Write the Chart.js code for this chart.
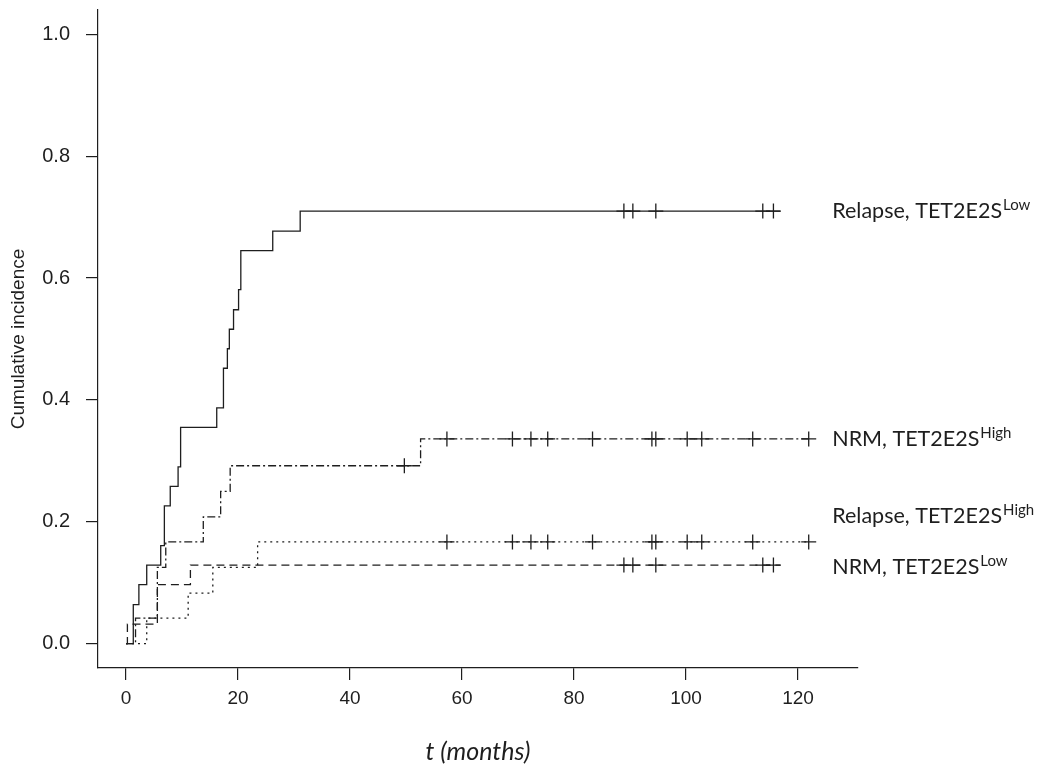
<!DOCTYPE html>
<html>
<head>
<meta charset="utf-8">
<script src="https://cdn.jsdelivr.net/npm/chart.js@4.4.1/dist/chart.umd.min.js"></script>
<style>
  html, body { margin: 0; padding: 0; background: #fff; }
  #wrap { width: 1057px; height: 772px; }
</style>
</head>
<body>
<div id="wrap"><canvas id="ciChart" width="1057" height="772"></canvas></div>
<script>
// jump times (months) and cumulative incidence after each jump, last entry = end of follow-up
const relLowT = [0, 1.3, 2.3, 3.7, 6.2, 6.85, 7.9, 9.3, 9.75, 16.2, 17.4, 18.1, 18.45, 19.2, 20.1, 20.5, 26.2, 31.1, 116.8];
const relLowY = [0, 0.064, 0.097, 0.129, 0.161, 0.226, 0.258, 0.290, 0.355, 0.387, 0.452, 0.484, 0.516, 0.548, 0.581, 0.645, 0.677, 0.710, 0.710];

const nrmLowT = [0, 0.25, 5.6, 11.5, 116.8];
const nrmLowY = [0, 0.032, 0.097, 0.129, 0.129];

const relHighT = [0, 3.7, 11.1, 15.5, 23.5, 121.9];
const relHighY = [0, 0.042, 0.083, 0.125, 0.167, 0.167];

const nrmHighT = [0, 1.7, 5.6, 7.1, 13.8, 16.9, 18.6, 52.6, 121.9];
const nrmHighY = [0, 0.042, 0.125, 0.167, 0.208, 0.250, 0.292, 0.336, 0.336];

// censoring times
const censLow = [88.9, 90.5, 94.6, 113.7, 115.6];
const censRelHigh = [57.3, 69.0, 72.3, 75.3, 83.3, 93.9, 94.6, 100.2, 102.8, 111.9, 121.9];
const censNrmHigh = [49.7, 57.3, 69.0, 72.3, 75.3, 83.3, 93.9, 94.6, 100.2, 102.8, 111.9, 121.9];

const xTicks = [0, 20, 40, 60, 80, 100, 120];
const yTicks = [0, 0.2, 0.4, 0.6, 0.8, 1.0];

// curve names at right side
const curveNames = ['Relapse, TET2E2S', 'NRM, TET2E2S', 'Relapse, TET2E2S', 'NRM, TET2E2S'];
const curveSups = ['Low', 'High', 'High', 'Low'];
const nameY = [0.71, 0.336, 0.21, 0.125];
const nameX = 126.1;

const ink = '#1e1e1e';

function toPoints(T, Y) {
    return T.map((t, i) => ({ x: t, y: Y[i] }));
}

function levelAt(T, Y, t) {
    let v = 0;
    for (let i = 0; i < T.length; i++) {
        if (T[i] <= t) v = Y[i];
    }
    return v;
}

function curve(T, Y, dash) {
    return {
        data: toPoints(T, Y),
        showLine: true,
        stepped: true,
        borderColor: ink,
        borderWidth: 1.3,
        borderDash: dash,
        pointRadius: 0,
        fill: false,
    };
}

function marks(times, T, Y) {
    return {
        data: times.map(t => ({ x: t, y: levelAt(T, Y, t) })),
        showLine: false,
        pointStyle: 'cross',
        pointRadius: 7.5,
        pointBorderWidth: 1.3,
        borderColor: ink,
        backgroundColor: ink,
    };
}

const curveLabels = {
    id: 'curveLabels',
    afterDraw(chart) {
        const ctx = chart.ctx;
        const xs = chart.scales.x, ys = chart.scales.y;
        ctx.save();
        ctx.fillStyle = ink;
        ctx.textBaseline = 'middle';
        ctx.textAlign = 'left';
        curveNames.forEach((name, i) => {
            const px = xs.getPixelForValue(nameX);
            const py = ys.getPixelForValue(nameY[i]);
            ctx.font = '21.5px Lato';
            ctx.fillText(name, px, py);
            const w = ctx.measureText(name).width;
            ctx.font = '15px Lato';
            ctx.fillText(curveSups[i], px + w + 1, py - 6);
        });
        ctx.restore();
    }
};

const ctx_ci = document.getElementById('ciChart');

let chart_ci = new Chart(ctx_ci, {
    type: 'scatter',
    data: {
        datasets: [
            curve(relLowT, relLowY, []),
            curve(nrmHighT, nrmHighY, [8, 3, 2, 3]),
            curve(relHighT, relHighY, [2, 4]),
            curve(nrmLowT, nrmLowY, [8, 5]),
            marks(censLow, relLowT, relLowY),
            marks(censNrmHigh, nrmHighT, nrmHighY),
            marks(censRelHigh, relHighT, relHighY),
            marks(censLow, nrmLowT, nrmLowY),
        ],
    },
    options: {
        responsive: false,
        animation: false,
        devicePixelRatio: 1,
        layout: {
            padding: { top: 10, right: 199, left: 0, bottom: 0 }
        },
        plugins: {
            legend: { display: false },
            tooltip: { enabled: false },
        },
        scales: {
            x: {
                type: 'linear',
                min: -5,
                max: 130.7,
                afterBuildTicks: s => { s.ticks = xTicks.map(v => ({ value: v })); },
                afterFit: s => { s.height = 104; },
                grid: { drawOnChartArea: false, drawTicks: true, tickLength: 12, color: ink, lineWidth: 1.2 },
                border: { display: true, color: ink, width: 1.2 },
                ticks: {
                    autoSkip: false,
                    maxRotation: 0,
                    padding: 7,
                    color: ink,
                    font: { family: 'Liberation Sans', size: 19 },
                    callback: v => String(v),
                },
                title: {
                    display: true,
                    text: 't (months)',
                    color: ink,
                    font: { family: 'Lato', size: 25, style: 'italic' },
                    padding: { top: 0, bottom: 5 },
                },
            },
            y: {
                type: 'linear',
                min: -0.04,
                max: 1.04,
                afterBuildTicks: s => { s.ticks = yTicks.map(v => ({ value: v })); },
                afterFit: s => { s.width = 98; s.paddingTop = 0; s.paddingBottom = 0; },
                grid: { drawOnChartArea: false, drawTicks: true, tickLength: 12, color: ink, lineWidth: 1.2 },
                border: { display: true, color: ink, width: 1.2 },
                ticks: {
                    autoSkip: false,
                    padding: 16,
                    color: ink,
                    font: { family: 'Liberation Sans', size: 20 },
                    callback: v => v.toFixed(1),
                },
                title: {
                    display: true,
                    text: 'Cumulative incidence',
                    color: ink,
                    font: { family: 'Liberation Sans', size: 19 },
                    padding: { top: 7, bottom: 0 },
                },
            },
        },
    },
    plugins: [curveLabels],
});
</script>
</body>
</html>
